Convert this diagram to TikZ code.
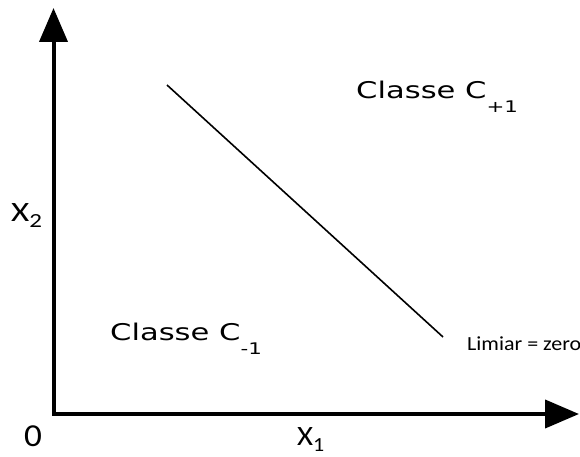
\documentclass[tikz,border=0pt]{standalone}
\usepackage{fontspec}
\setmainfont{DejaVu Sans}
\newfontfamily\calfont{Carlito}
\usetikzlibrary{arrows.meta, positioning}

\newcommand{\classlabel}[1]{\scalebox{1.33}[1]{\fontsize{23}{26}\selectfont Classe C\raisebox{-14pt}{\fontsize{16}{19}\selectfont #1}}}
\newcommand{\axislabel}[2]{\calfont\fontsize{28}{32}\selectfont #1\raisebox{-6pt}{\fontsize{20}{23}\selectfont #2}}

\begin{document}
\begin{tikzpicture}[x=1pt, y=-1pt,
    axis/.style={line width=4pt, line join=miter, {Triangle[length=34pt,width=28pt]}-{Triangle[length=34pt,width=28pt]}},
    lbl/.style={anchor=base west, inner sep=0pt}]
    \useasboundingbox (0,0) rectangle (580,457);
    % axes
    \coordinate (o) at (53.5,414);
    \coordinate (ytip) at (53.5,8);
    \coordinate (xtip) at (579,414);
    \draw[axis] (ytip) -- (o) -- (xtip);
    % threshold line
    \coordinate (lstart) at (167,85);
    \coordinate (lend) at (443,337);
    \draw[line width=1.6pt] (lstart) -- (lend);
    % labels
    \node[lbl] (cplus) at (356,99) {\classlabel{+1}};
    \node[lbl] (cminus) at (110,340) {\classlabel{-1}};
    \node[lbl] (limiar) at (467,350) {\scalebox{1.1}[1]{\calfont\fontsize{20}{23}\selectfont Limiar = zero}};
    \node[lbl] (xtwo) at (11,221) {\scalebox{1.25}[1]{\axislabel{X}{2}}};
    \node[lbl] (xone) at (297,445) {\scalebox{1.1}[1]{\axislabel{X}{1}}};
    \node[lbl] (zero) at (24,446) {\scalebox{1.1}[1]{\calfont\fontsize{32}{36}\selectfont 0}};
\end{tikzpicture}
\end{document}
